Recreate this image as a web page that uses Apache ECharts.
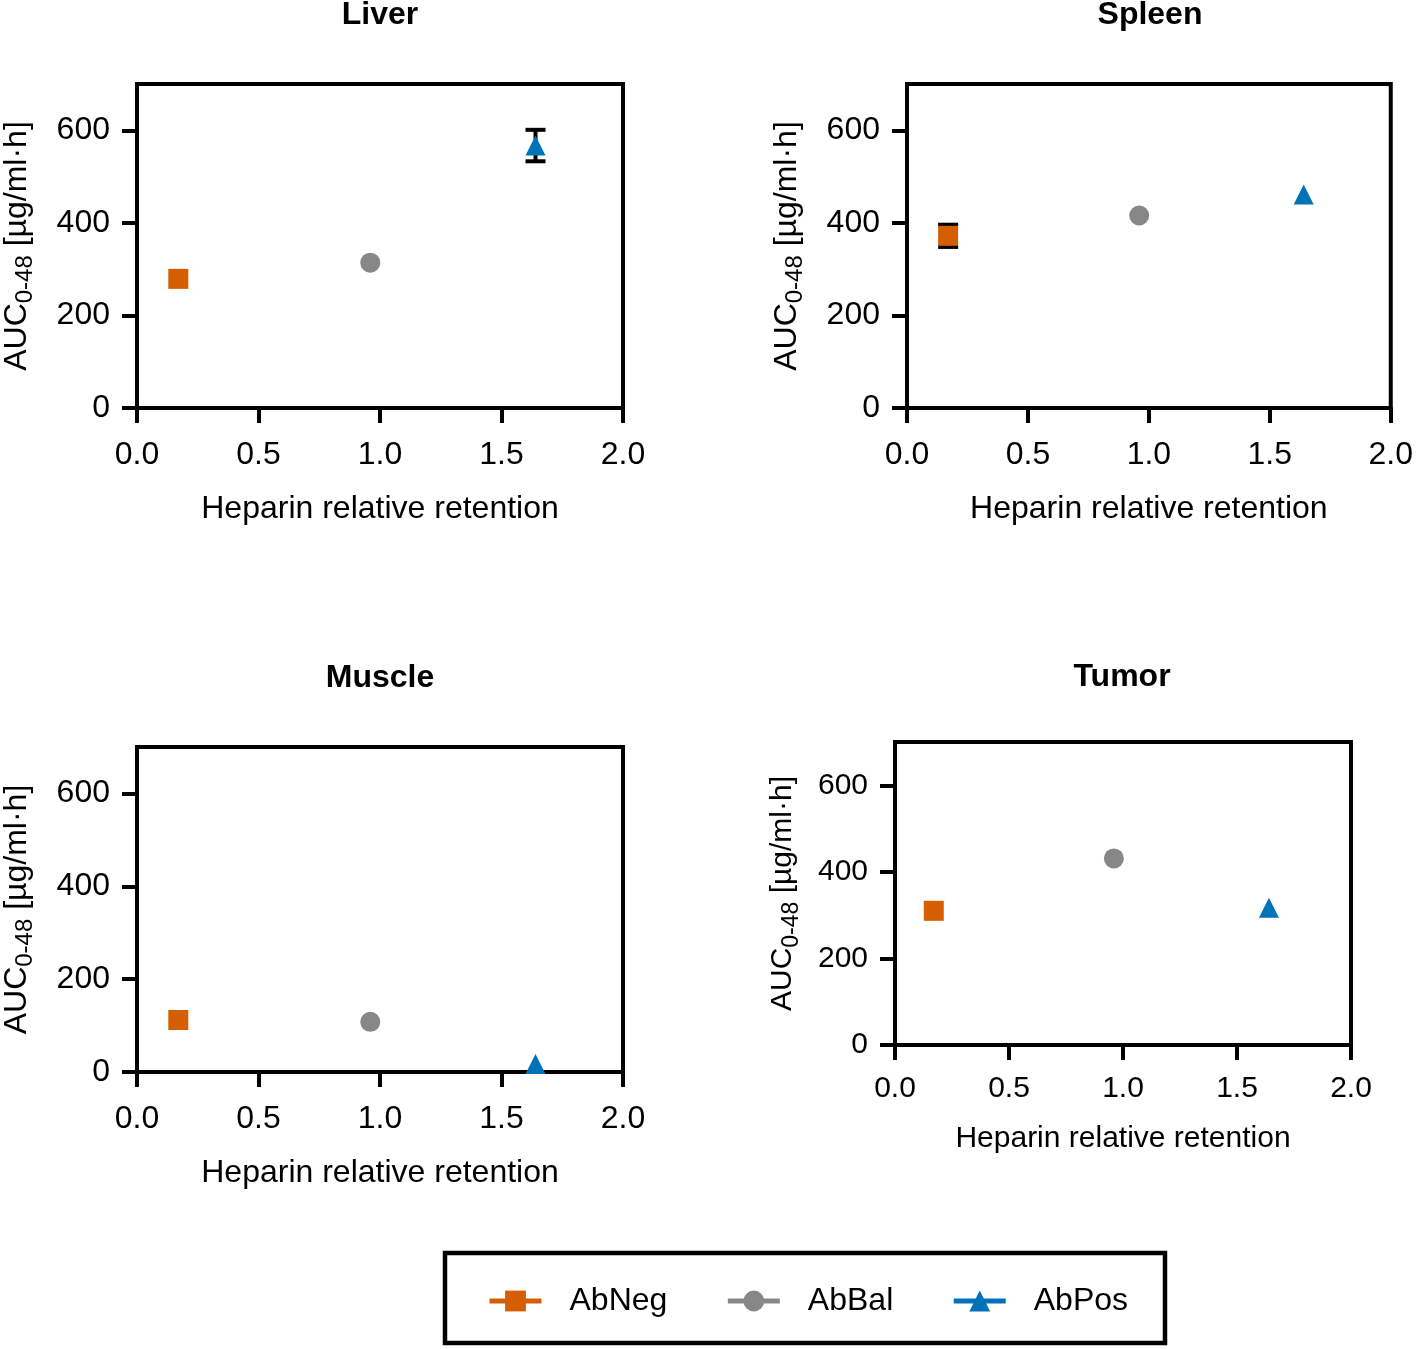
<!DOCTYPE html>
<html>
<head>
<meta charset="utf-8">
<script src="https://cdn.jsdelivr.net/npm/echarts@6/dist/echarts.min.js"></script>
<style>
html,body{margin:0;padding:0;background:#fff;}
#chart{width:1416px;height:1349px;}
</style>
</head>
<body>
<div id="chart"></div>
<script>
// ---- data ----
const organs = ['Liver', 'Spleen', 'Muscle', 'Tumor'];
const seriesNames = ['AbNeg', 'AbBal', 'AbPos'];
const retention = [0.17, 0.96, 1.64];          // heparin relative retention per antibody
const abNeg = [279, 372, 112, 310];            // AUC per organ
const abBal = [314, 416, 108, 431];
const abPos = [567, 461, 17, 317];
const errNeg = [0, 24, 0, 0];                  // SD per organ
const errBal = [0, 0, 0, 0];
const errPos = [34, 0, 0, 0];
const xTicks = [0, 0.5, 1.0, 1.5, 2.0];
const yTicks = [0, 200, 400, 600];

const colors = ['#D55E00', '#878787', '#0072B8'];
const symbols = ['rect', 'circle', 'triangle'];
const values = [abNeg, abBal, abPos];
const errors = [errNeg, errBal, errPos];

const FONT = '"Liberation Sans", Arial, sans-serif';

const grids = [
  {left: 136, top: 84, width: 487, height: 324},
  {left: 907, top: 84, width: 486, height: 324},
  {left: 136, top: 747, width: 487, height: 325},
  {left: 895, top: 742, width: 456, height: 303}
];
const fs = [32, 32, 32, 30];
const titlePos = [[380, -1], [1150, -1], [380, 662], [1122, 661]];

const xAxes = [], yAxes = [], series = [], titles = [];
grids.forEach((g, i) => {
  const f = fs[i];
  xAxes.push({
    type: 'value', gridIndex: i, min: 0, max: 2, interval: 0.5,
    axisLine: {show: true, onZero: false, lineStyle: {color: '#000', width: 4}},
    axisTick: {show: true, length: 15, lineStyle: {color: '#000', width: 4}, customValues: xTicks},
    axisLabel: {fontSize: f, color: '#000', fontFamily: FONT, margin: i === 3 ? 29 : 31, customValues: xTicks,
      formatter: v => v.toFixed(1)},
    splitLine: {show: false},
    name: 'Heparin relative retention', nameLocation: 'middle', nameGap: i === 3 ? 79 : 85,
    nameTextStyle: {fontSize: f, color: '#000', fontFamily: FONT}
  });
  yAxes.push({
    type: 'value', gridIndex: i, min: 0, max: 700,
    axisLine: {show: true, lineStyle: {color: '#000', width: 4}},
    axisTick: {show: true, length: 15, lineStyle: {color: '#000', width: 4}, customValues: yTicks},
    axisLabel: {fontSize: f, color: '#000', fontFamily: FONT, margin: 27, customValues: yTicks},
    splitLine: {show: false},
    name: '{a|AUC}{s|0-48}{a| [µg/ml·h]}', nameLocation: 'middle', nameRotate: 90,
    nameGap: i === 3 ? 92 : 100,
    nameTextStyle: {
      color: '#000', fontFamily: FONT,
      rich: {
        a: {fontSize: f, lineHeight: 40, color: '#000', fontFamily: FONT},
        s: {fontSize: Math.round(f * 0.76), lineHeight: 14, verticalAlign: 'bottom', color: '#000', fontFamily: FONT}
      }
    }
  });
  titles.push({
    text: organs[i], left: titlePos[i][0], top: titlePos[i][1], textAlign: 'center', padding: 0,
    textStyle: {fontSize: 32, fontWeight: 'bold', color: '#000', fontFamily: FONT}
  });
  // error bars
  const errData = [];
  for (let k = 0; k < 3; k++) {
    if (errors[k][i] > 0) errData.push([retention[k], values[k][i] - errors[k][i], values[k][i] + errors[k][i]]);
  }
  if (errData.length) {
    series.push({
      type: 'custom', name: 'err' + i, xAxisIndex: i, yAxisIndex: i, z: 1, silent: true,
      data: errData,
      renderItem: (params, api) => {
        const lo = api.coord([api.value(0), api.value(1)]);
        const hi = api.coord([api.value(0), api.value(2)]);
        const w = 10;
        const st = {stroke: '#000', lineWidth: 4};
        return {type: 'group', children: [
          {type: 'line', shape: {x1: lo[0], y1: lo[1], x2: hi[0], y2: hi[1]}, style: st},
          {type: 'line', shape: {x1: lo[0] - w, y1: lo[1], x2: lo[0] + w, y2: lo[1]}, style: st},
          {type: 'line', shape: {x1: hi[0] - w, y1: hi[1], x2: hi[0] + w, y2: hi[1]}, style: st}
        ]};
      }
    });
  }
  for (let k = 0; k < 3; k++) {
    series.push({
      type: 'line', name: seriesNames[k], xAxisIndex: i, yAxisIndex: i, z: 3, clip: false,
      data: [[retention[k], values[k][i]]],
      symbol: symbols[k], symbolSize: 20, showSymbol: true,
      itemStyle: {color: colors[k]},
      lineStyle: {color: colors[k], width: 5},
      emphasis: {disabled: true}
    });
  }
});

const chart = echarts.init(document.getElementById('chart'), null, {renderer: 'canvas'});
chart.setOption({
  animation: false,
  backgroundColor: '#fff',
  title: titles,
  grid: grids.map(g => Object.assign({show: true, borderColor: '#000', borderWidth: 4, containLabel: false}, g)),
  xAxis: xAxes,
  yAxis: yAxes,
  legend: {
    data: seriesNames, left: 487, top: 1285, padding: 0, itemWidth: 52, itemHeight: 26, itemGap: 58,
    selectedMode: false,
    lineStyle: {width: 5},
    textStyle: {fontSize: 32, color: '#000', fontFamily: FONT, padding: [0, 0, 0, 23]}
  },
  graphic: [{
    type: 'rect', shape: {x: 445, y: 1253, width: 720, height: 90},
    style: {fill: 'none', stroke: '#000', lineWidth: 4.5}, silent: true
  }],
  series: series
});
</script>
</body>
</html>
